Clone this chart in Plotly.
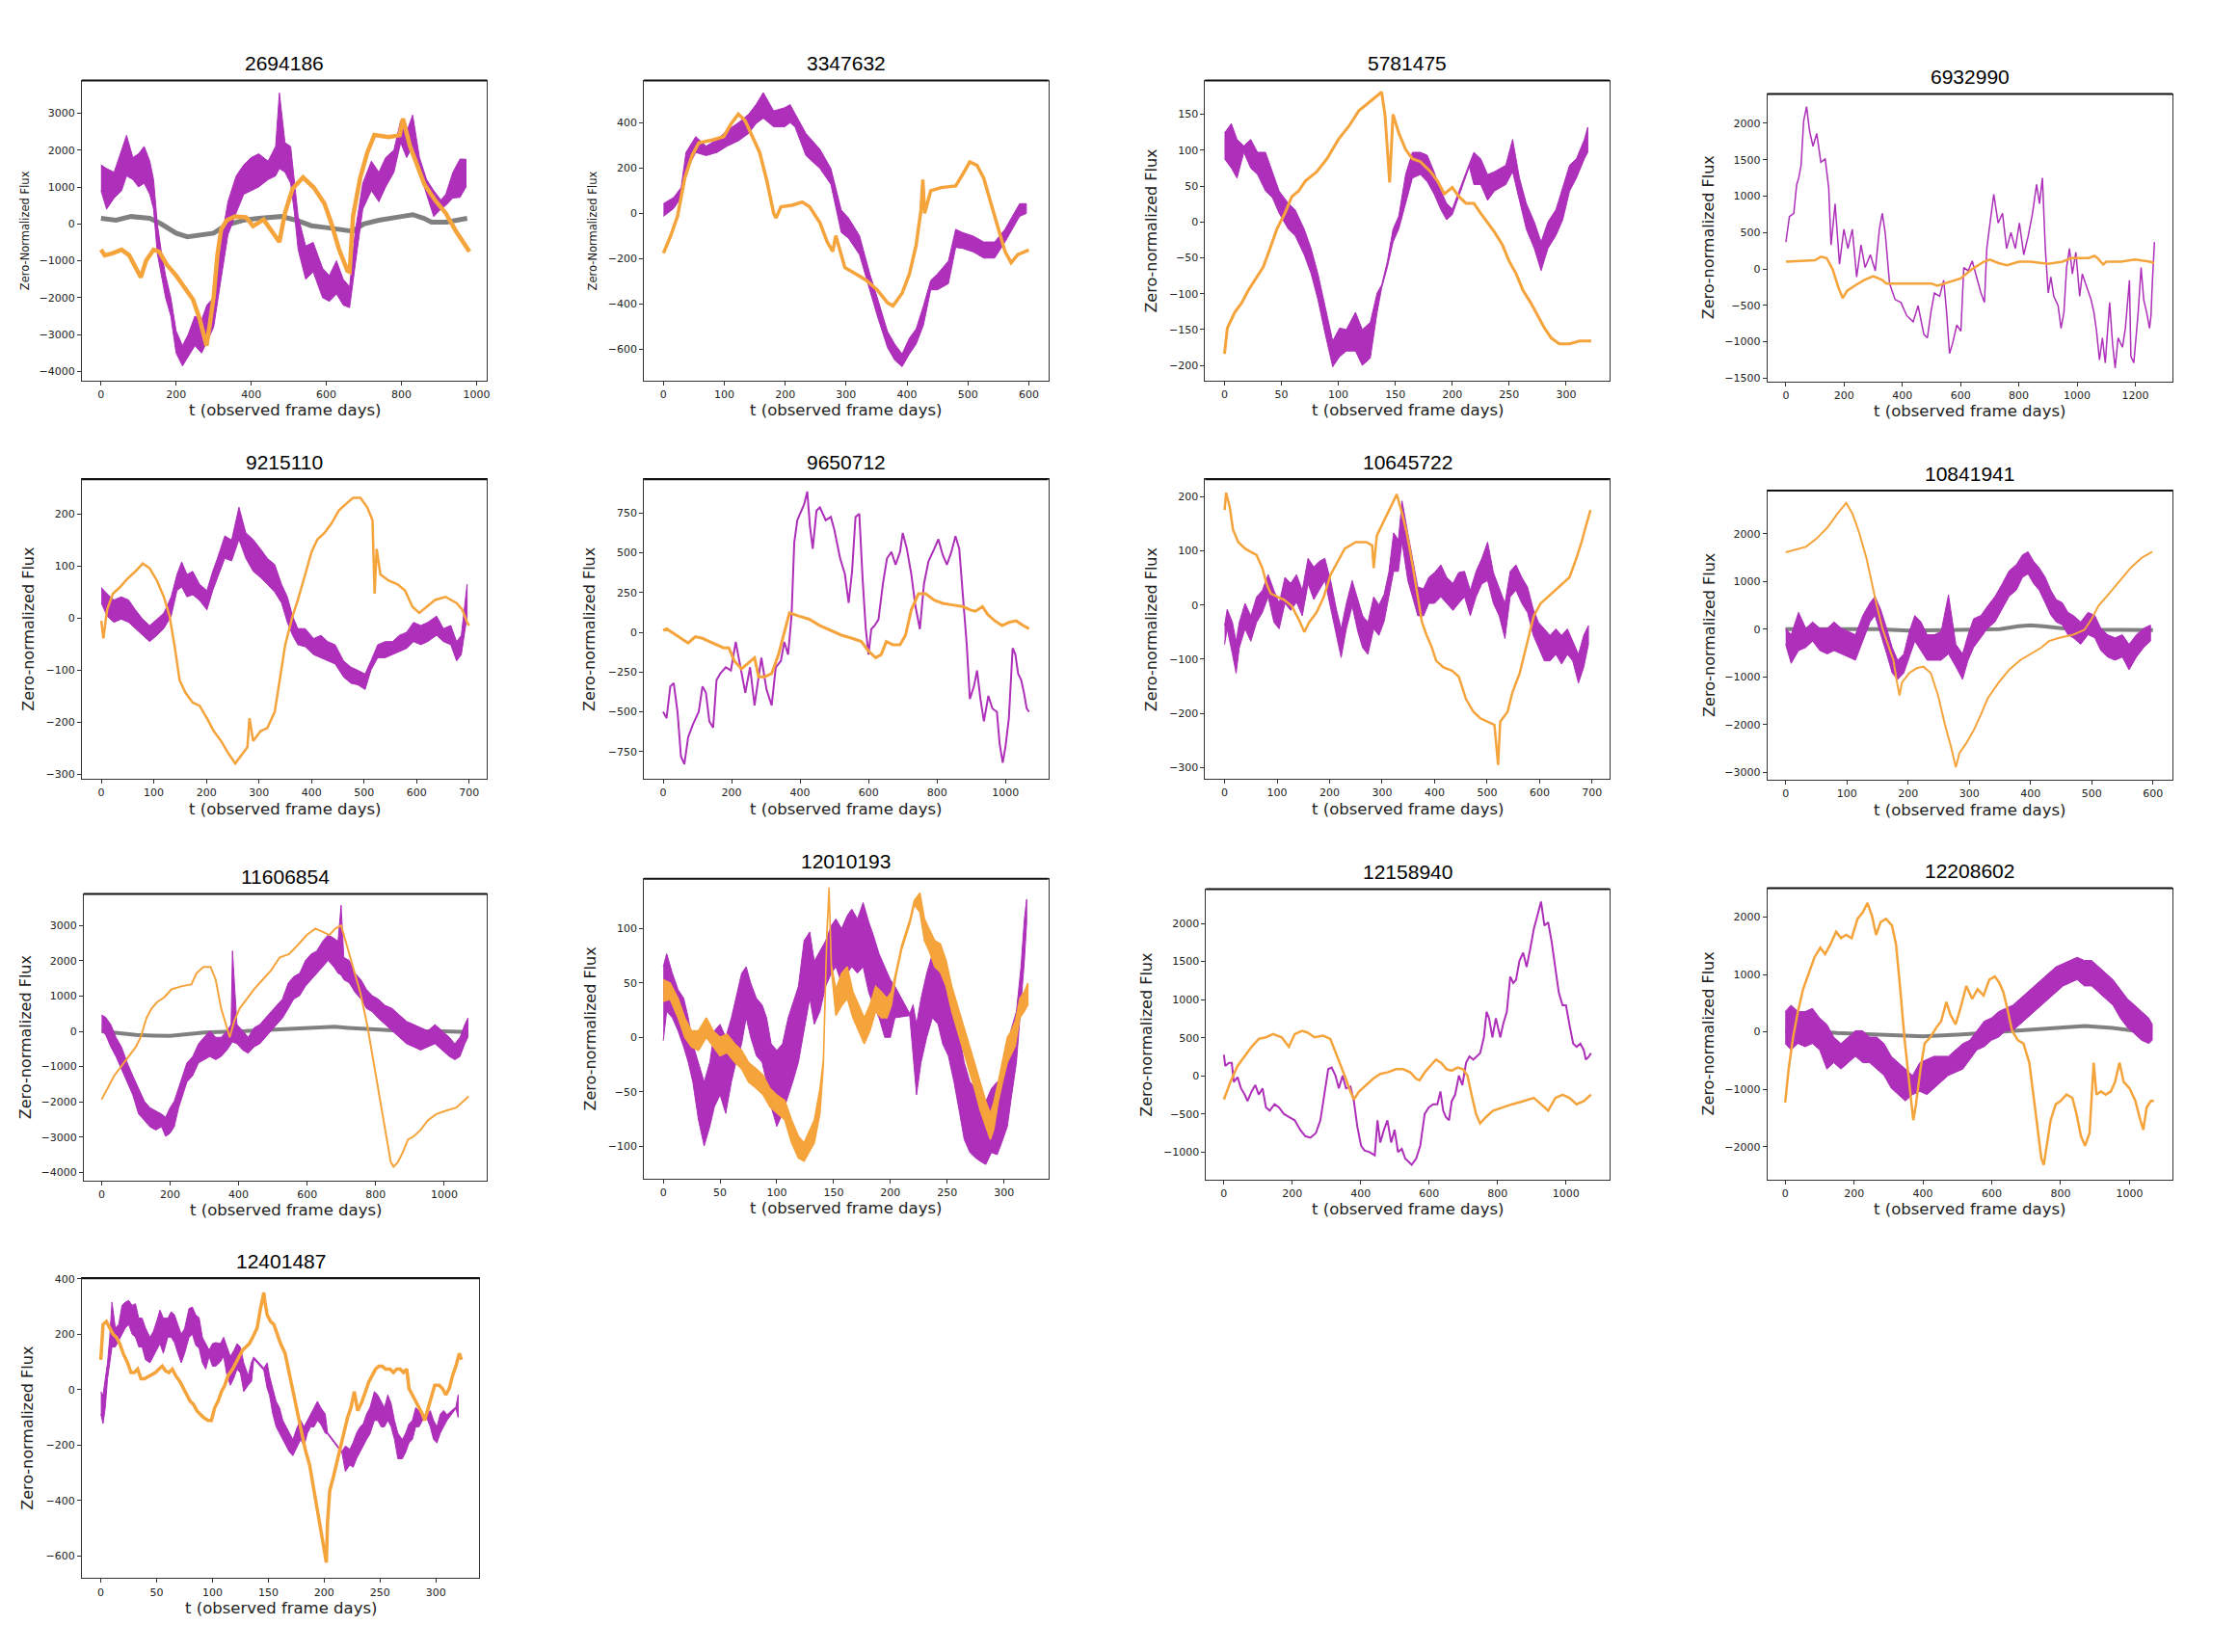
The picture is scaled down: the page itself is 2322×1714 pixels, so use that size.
import plotly.graph_objects as go

# Values.
# Noisy series are stored as (t, low, high) rows of the visible band,
# thin series as (t, value) rows.

p1_purple = [(0, 900, 1600), (15, 400, 1500), (35, 700, 1400), (55, 900, 2000), (68, 1300, 2400),
             (85, 1200, 1800), (100, 1000, 1900), (115, 1100, 2100), (130, 800, 1700), (140, 400, 1200),
             (150, -800, 0), (160, -1300, -700), (172, -2000, -1400), (186, -2500, -2000), (200, -3500, -2900),
             (217, -3850, -3300), (232, -3600, -3000), (250, -3300, -2500), (268, -3500, -2600), (282, -3200, -2200),
             (300, -2800, -2000), (318, -1600, -600), (338, -300, 600), (360, 300, 1300), (380, 800, 1600),
             (400, 900, 1800), (420, 1000, 1900), (445, 1200, 1700), (465, 1300, 2100), (475, 1500, 3550),
             (490, 1400, 2200), (505, 1100, 2100), (515, 300, 1200), (525, -700, 200), (545, -1500, -600),
             (565, -1300, -500), (590, -2000, -1200), (608, -2100, -1400), (627, -1900, -1000), (645, -2200, -1500),
             (662, -2270, -1700), (677, -1100, -200), (697, 400, 1100), (720, 900, 1700), (740, 600, 1400),
             (758, 1000, 1800), (780, 1400, 2000), (798, 2200, 2800), (814, 1800, 2500), (830, 2100, 2950),
             (848, 1400, 1800), (867, 800, 1200), (886, 200, 900), (905, 400, 650), (918, 500, 800),
             (937, 700, 1400), (956, 720, 1760), (972, 1000, 1750)]
p1_orange = [(0, -700), (10, -850), (30, -800), (55, -700), (75, -850), (95, -1200), (106, -1450), (120, -1000),
             (140, -700), (155, -750), (175, -1100), (200, -1400), (225, -1750), (245, -2050), (262, -2550),
             (281, -3300), (290, -2700), (300, -1970), (310, -840), (320, -150), (335, 100), (357, 200),
             (386, 180), (405, -60), (433, 115), (452, -150), (475, -490), (490, 300), (510, 950), (538, 1260),
             (567, 980), (595, 550), (614, 0), (633, -666), (656, -1270), (662, -1300), (671, 200), (690, 1240),
             (709, 1930), (728, 2410), (766, 2350), (795, 2400), (804, 2850), (823, 2100), (842, 1590),
             (861, 1070), (890, 634), (918, 290), (947, -230), (981, -750)]
p1_gray = [(0, 150), (40, 100), (80, 200), (130, 150), (160, 0), (200, -250), (230, -350), (270, -300),
           (300, -250), (330, -50), (380, 100), (420, 150), (480, 200), (520, 100), (560, -50), (600, -100),
           (640, -150), (670, -200), (700, 0), (740, 100), (800, 200), (830, 250), (860, 150), (880, 50),
           (920, 50), (975, 150)]

p2_purple = [(0, -13, 43), (17, 22, 71), (29, 71, 114), (37, 184, 269), (53, 269, 339), (70, 255, 297),
             (88, 269, 325), (105, 297, 367), (123, 320, 400), (140, 353, 438), (152, 396, 480), (164, 420, 533),
             (181, 382, 452), (199, 382, 466), (208, 400, 480), (216, 382, 440), (234, 255, 353), (257, 198, 283),
             (275, 128, 198), (292, -84, 15), (304, -110, -20), (322, -182, -98), (339, -337, -267),
             (351, -450, -370), (368, -592, -521), (380, -648, -577), (392, -676, -620), (404, -620, -550),
             (415, -577, -510), (427, -493, -408), (439, -337, -295), (450, -337, -267), (468, -310, -210),
             (480, -150, -70), (491, -154, -84), (509, -170, -100), (526, -197, -126), (544, -197, -126),
             (561, -126, -70), (573, -70, -13), (585, -13, 43), (596, 0, 43)]
p2_orange = [(0, -175), (12, -98), (23, -13), (35, 156), (47, 255), (58, 311), (82, 325), (99, 339), (111, 395),
             (123, 438), (134, 410), (146, 339), (158, 269), (170, 142), (181, 0), (185, -20), (193, 29),
             (211, 36), (228, 50), (240, 29), (257, -41), (269, -126), (278, -168), (283, -98), (298, -239),
             (316, -267), (333, -295), (351, -337), (368, -394), (377, -408), (392, -352), (404, -267),
             (415, -140), (423, 15), (426, 149), (429, 0), (439, 100), (456, 114), (480, 121), (491, 170),
             (503, 227), (515, 212), (526, 156), (538, 43), (550, -70), (561, -168), (571, -218), (582, -182),
             (600, -161)]

p3_purple = [(0, 88, 124), (6, 75, 137), (11, 61, 115), (17, 97, 106), (23, 75, 115), (29, 66, 97), (36, 43, 97),
             (42, 34, 70), (48, 12, 43), (56, -10, 26), (62, -19, 17), (70, -46, -10), (76, -72, -37),
             (82, -108, -72), (88, -153, -117), (95, -202, -166), (101, -188, -148), (107, -180, -150),
             (115, -180, -126), (121, -200, -150), (128, -190, -140), (134, -126, -99), (138, -92, -88),
             (143, -63, -55), (148, -28, -10), (153, -10, 8), (159, 26, 66), (165, 61, 97), (172, 66, 97),
             (178, 56, 93), (184, 39, 70), (190, 17, 43), (195, 3, 26), (200, 10, 18), (215, 77, 81),
             (219, 52, 97), (225, 52, 88), (231, 30, 66), (237, 43, 70), (247, 52, 79), (253, 70, 115),
             (259, 30, 61), (265, -10, 26), (272, -37, 0), (278, -68, -28), (284, -37, 0), (291, -19, 17),
             (297, 3, 48), (303, 43, 79), (309, 61, 88), (316, 88, 115), (319, 97, 132)]
p3_orange = [(0, -184), (2.5, -148), (9, -126), (15, -113), (21, -95), (28, -77), (34, -63), (40, -37), (46, -10),
             (53, 12), (59, 35), (65, 43), (71, 57), (81, 70), (90, 88), (100, 115), (109, 133), (118, 155),
             (128, 168), (134, 175), (138, 181), (141, 148), (145, 55), (148, 150), (153, 124), (159, 101),
             (165, 88), (172, 84), (181, 70), (187, 57), (193, 39), (200, 48), (206, 35), (212, 26), (219, 26),
             (225, 12), (231, -1), (237, -14), (244, -32), (250, -55), (256, -72), (262, -95), (269, -113),
             (275, -130), (281, -148), (287, -162), (294, -170), (303, -170), (312, -166), (322, -166)]

p4_purple = [(0, 370), (12, 720), (27, 765), (37, 1160), (44, 1250), (52, 1420), (61, 2035), (71, 2230), (81, 1900),
             (93, 1685), (106, 1860), (120, 1465), (135, 1510), (147, 1115), (155, 330), (169, 895), (184, 65),
             (199, 545), (213, 280), (228, 545), (243, -110), (258, 330), (272, 20), (290, 195), (307, -25),
             (321, 545), (331, 765), (341, 500), (356, -200), (375, -420), (395, -460), (415, -640), (437, -725),
             (454, -505), (474, -900), (486, -945), (498, -595), (510, -330), (528, -375), (542, -155),
             (552, -595), (562, -1160), (572, -1030), (587, -770), (601, -855), (611, 20), (626, -25), (640, 110),
             (658, -155), (670, -330), (682, -460), (690, 280), (704, 720), (714, 1025), (729, 630), (744, 765),
             (758, 280), (773, 500), (788, 280), (802, 630), (817, 195), (832, 450), (847, 765), (861, 1160),
             (871, 895), (881, 1250), (891, 280), (901, -330), (910, -110), (920, -375), (935, -505), (945, -815),
             (955, -595), (964, 20), (974, 280), (984, -67), (996, 230), (1009, -375), (1018, -67), (1033, -245),
             (1048, -420), (1058, -595), (1067, -855), (1077, -1250), (1087, -945), (1097, -1290), (1112, -460),
             (1122, -1030), (1131, -1360), (1141, -945), (1156, -1075), (1166, -815), (1180, -155), (1185, -1200),
             (1195, -1290), (1210, -595), (1220, 20), (1229, -420), (1239, -595), (1249, -815), (1254, -640),
             (1259, -155), (1266, 370)]
p4_orange = [(0, 100), (50, 110), (100, 120), (120, 170), (140, 150), (160, 0), (180, -250), (195, -400),
             (210, -300), (240, -220), (270, -150), (300, -100), (330, -150), (345, -200), (370, -200),
             (450, -200), (500, -200), (520, -230), (560, -180), (600, -130), (640, 0), (680, 100), (700, 130),
             (730, 80), (760, 50), (800, 100), (840, 100), (900, 70), (950, 100), (980, 150), (1040, 150),
             (1060, 180), (1070, 150), (1090, 60), (1100, 100), (1150, 100), (1200, 130), (1250, 100), (1265, 80)]

p5_purple = [(0, 29, 59), (11, 4, 47), (24, -8, 35), (38, -2, 41), (52, -8, 35), (65, -20, 16), (79, -33, -2),
             (92, -45, -14), (106, -33, -2), (119, -20, 10), (133, 4, 41), (144, 53, 84), (153, 60, 108),
             (163, 41, 84), (174, 45, 90), (187, 34, 65), (201, 16, 53), (212, 53, 90), (221, 78, 115),
             (235, 115, 158), (248, 110, 150), (262, 151, 213), (275, 115, 164), (289, 90, 151), (303, 78, 133),
             (316, 65, 115), (330, 50, 103), (343, 29, 65), (354, -8, 41), (364, -33, 4), (374, -51, -20),
             (388, -55, -20), (404, -70, -39), (418, -76, -33), (431, -82, -45), (445, -88, -51), (461, -113, -82),
             (475, -125, -94), (488, -128, -100), (502, -137, -107), (513, -100, -82), (526, -76, -51),
             (540, -76, -45), (554, -70, -45), (567, -64, -33), (581, -58, -27), (594, -45, -8), (608, -51, -14),
             (621, -45, -8), (638, -33, 4), (651, -45, -20), (665, -51, -14), (676, -82, -45), (685, -70, -33),
             (696, 4, 65)]
p5_orange = [(0, -5), (4, -39), (11, 16), (22, 47), (35, 59), (49, 75), (65, 90), (79, 105), (92, 96), (106, 72),
             (119, 41), (130, 4), (140, -57), (149, -119), (160, -143), (174, -162), (187, -168), (201, -192),
             (214, -217), (228, -236), (242, -260), (255, -279), (269, -260), (278, -248), (282, -192),
             (289, -236), (303, -217), (316, -211), (330, -180), (339, -119), (350, -51), (364, 4), (374, 35),
             (388, 84), (400, 127), (411, 151), (425, 164), (438, 182), (452, 207), (465, 219), (479, 231),
             (493, 231), (506, 213), (516, 188), (520, 47), (524, 133), (531, 84), (547, 72), (564, 65),
             (578, 53), (592, 22), (605, 10), (619, 22), (635, 35), (655, 41), (676, 29), (687, 16), (696, -8),
             (700, -14)]

p6_purple = [(0, -500), (10, -540), (21, -340), (31, -320), (42, -500), (52, -780), (62, -830), (73, -660),
             (87, -580), (104, -500), (115, -340), (125, -380), (135, -560), (146, -600), (156, -300), (167, -260),
             (183, -220), (198, -240), (212, -60), (225, -220), (240, -380), (254, -220), (267, -460), (275, -340),
             (287, -160), (302, -360), (317, -460), (329, -220), (344, -180), (354, -60), (365, -140), (375, 100),
             (383, 565), (392, 705), (400, 745), (412, 805), (421, 885), (429, 665), (437, 525), (448, 765),
             (458, 785), (475, 705), (490, 725), (500, 645), (517, 465), (531, 365), (542, 185), (552, 385),
             (562, 725), (573, 745), (583, 325), (592, 20), (600, -140), (608, 20), (617, 40), (629, 80),
             (642, 305), (654, 465), (667, 505), (679, 425), (692, 505), (700, 625), (712, 525), (725, 365),
             (737, 165), (750, 20), (762, 305), (775, 445), (792, 525), (804, 585), (817, 485), (829, 425),
             (842, 505), (854, 605), (865, 525), (875, 265), (887, -80), (896, -420), (908, -340), (917, -240),
             (927, -420), (937, -560), (950, -400), (962, -480), (975, -500), (983, -700), (992, -820),
             (1000, -720), (1010, -540), (1021, -100), (1029, -140), (1037, -260), (1046, -300), (1054, -380),
             (1062, -480), (1069, -500)]
p6_orange = [(0, 12), (10, 22), (31, -8), (52, -38), (73, -68), (94, -28), (115, -38), (135, -58), (156, -78),
             (177, -98), (192, -98), (208, -180), (229, -230), (246, -200), (267, -160), (279, -280), (296, -280),
             (317, -260), (337, -140), (354, 0), (369, 122), (396, 102), (427, 82), (458, 42), (490, 12),
             (521, -18), (552, -38), (579, -58), (600, -118), (621, -160), (637, -140), (652, -58), (671, -78),
             (692, -78), (708, -18), (725, 142), (746, 242), (767, 242), (792, 202), (817, 182), (844, 172),
             (875, 162), (896, 142), (912, 132), (933, 162), (948, 112), (969, 72), (990, 42), (1010, 62),
             (1031, 72), (1052, 42), (1069, 22)]

p7_purple = [(0, -73, -38), (5, -44, -8), (15, -91, -32), (22, -126, -67), (28, -79, -32), (39, -44, 3),
             (50, -67, -20), (61, -32, 15), (72, -14, 27), (83, 15, 56), (94, -32, 27), (104, -44, 3), (115, 3, 51),
             (126, -10, 40), (137, 5, 56), (148, -20, 27), (159, 39, 86), (170, 10, 70), (180, 27, 80),
             (191, 45, 86), (202, -8, 45), (213, -56, -8), (222, -97, -44), (232, -44, 3), (243, -2, 45),
             (254, -50, 10), (263, -79, -20), (273, -91, -32), (284, -44, 15), (294, -56, 0), (304, -30, 20),
             (313, 15, 61), (322, 62, 133), (331, 62, 120), (338, 116, 192), (349, 45, 133), (358, 15, 86),
             (368, -20, 33), (379, -20, 30), (389, 3, 51), (400, 3, 60), (412, 15, 74), (423, 3, 51),
             (435, -10, 40), (446, 3, 60), (457, 15, 62), (468, -20, 27), (479, 15, 62), (490, 39, 86),
             (501, 45, 116), (512, 3, 60), (523, -20, 30), (534, -62, 3), (544, 15, 62), (555, 27, 74),
             (566, 3, 51), (577, -14, 33), (588, -56, -8), (598, -79, -32), (609, -103, -44), (620, -103, -56),
             (631, -91, -44), (642, -109, -56), (653, -91, -44), (663, -103, -67), (674, -144, -91),
             (684, -115, -56), (693, -73, -38)]
p7_orange = [(0, 175), (3, 207), (10, 180), (16, 139), (26, 116), (39, 104), (50, 98), (61, 92), (72, 68), (80, 39),
             (88, 21), (100, 15), (114, 9), (128, -2), (141, -26), (152, -50), (161, -32), (175, -14), (189, 15),
             (202, 56), (216, 80), (229, 104), (250, 116), (270, 116), (281, 110), (284, 68), (290, 128),
             (304, 157), (318, 186), (328, 204), (338, 169), (347, 133), (358, 74), (368, 15), (376, -32),
             (385, -56), (395, -79), (403, -103), (417, -115), (433, -121), (446, -132), (460, -174), (474, -197),
             (487, -209), (501, -215), (514, -221), (521, -295), (525, -215), (539, -197), (548, -162),
             (562, -126), (575, -73), (589, -20), (602, 3), (616, 15), (630, 27), (643, 39), (657, 51), (670, 86),
             (680, 116), (688, 145), (697, 175)]

p8_purple = [(0, -316, 19), (9, -717, -115), (21, -450, 353), (33, -383, 19), (44, -249, 153), (56, -450, 19),
             (68, -517, 19), (79, -450, 153), (91, -517, 19), (103, -584, -48), (114, -650, -115), (126, -249, 287),
             (138, 153, 555), (146, 287, 688), (155, -115, 421), (165, -517, 19), (174, -918, -383),
             (183, -1052, -650), (193, -918, -517), (202, -584, -48), (211, -249, 287), (221, -450, 153),
             (231, -650, -115), (243, -650, -115), (254, -650, -48), (266, -517, 722), (278, -784, -316),
             (289, -1052, -517), (298, -650, -115), (307, -383, 220), (319, -182, 287), (330, 19, 488),
             (342, 153, 688), (354, 421, 956), (365, 688, 1224), (377, 822, 1357), (387, 1090, 1558),
             (396, 1157, 1625), (405, 956, 1424), (414, 822, 1290), (424, 554, 1090), (433, 300, 820),
             (442, 153, 621), (452, 86, 555), (461, -115, 354), (470, -182, 287), (482, -316, 153),
             (494, -115, 354), (505, -182, 287), (515, -450, 19), (526, -584, -115), (538, -650, -182),
             (550, -584, -115), (561, -851, -316), (573, -584, -115), (585, -383, 19), (596, -249, 86)]
p8_orange = [(0, 1612), (15, 1660), (33, 1726), (50, 1893), (68, 2127), (85, 2428), (99, 2649), (109, 2428),
             (120, 2027), (132, 1491), (141, 956), (149, 487), (158, 19), (167, -316), (176, -651), (182, -1119),
             (186, -1387), (190, -1119), (202, -918), (214, -818), (225, -784), (237, -918), (249, -1387),
             (260, -1990), (270, -2458), (278, -2893), (284, -2592), (295, -2391), (307, -2123), (319, -1788),
             (330, -1454), (348, -1119), (365, -851), (383, -650), (400, -517), (418, -383), (430, -249),
             (447, -182), (470, -115), (488, -14), (500, 220), (511, 488), (529, 755), (546, 1023), (564, 1290),
             (581, 1491), (599, 1625)]
p8_gray = [(0, 0), (100, 0), (150, 0), (200, -30), (250, -20), (300, -30), (350, 0), (380, 60), (400, 80),
           (420, 60), (450, 20), (500, -10), (550, -20), (600, -20)]

p9_purple = [(0, 13, 467), (12, -100, 400), (27, -441, 194), (42, -714, -169), (58, -1077, -441),
             (75, -1440, -895), (91, -1803, -1258), (108, -2348, -1621), (125, -2529, -1984), (141, -2711, -2166),
             (158, -2802, -2257), (175, -2711, -2348), (187, -2983, -2439), (200, -2893, -2166),
             (212, -2711, -1984), (225, -2166, -1621), (237, -1803, -1258), (249, -1440, -895),
             (266, -1258, -714), (283, -895, -351), (299, -804, -169), (316, -714, 13), (333, -804, -169),
             (349, -714, -169), (366, -532, 13), (378, -351, 194), (382, -300, 2283), (395, -351, 194),
             (412, -532, 13), (428, -623, -169), (445, -441, 103), (462, -351, 194), (478, -169, 376),
             (495, 13, 558), (511, 194, 740), (528, 376, 921), (545, 649, 1375), (561, 921, 1557),
             (578, 1012, 1647), (595, 1284, 2010), (611, 1466, 2192), (628, 1647, 2283), (645, 1829, 2555),
             (661, 2010, 2737), (678, 1829, 2646), (690, 1647, 2555), (699, 1600, 3580), (707, 1466, 2100),
             (723, 1375, 2010), (740, 1103, 1647), (757, 921, 1466), (773, 649, 1193), (790, 558, 1012),
             (807, 376, 921), (827, 194, 740), (848, 13, 649), (869, -169, 467), (890, -351, 285), (911, -441, 194),
             (931, -532, 103), (952, -441, 13), (973, -351, 194), (994, -532, 13), (1015, -714, -169),
             (1031, -804, -351), (1046, -714, -169), (1060, -351, 194), (1069, -169, 376)]
p9_orange = [(0, -1939), (17, -1621), (37, -1258), (58, -986), (79, -714), (100, -441), (114, -169), (131, 376),
             (146, 649), (162, 830), (183, 967), (204, 1193), (235, 1284), (262, 1330), (277, 1647), (297, 1829),
             (318, 1829), (333, 1466), (349, 649), (362, 194), (374, -169), (387, 285), (403, 649), (424, 921),
             (445, 1193), (470, 1466), (495, 1738), (520, 2101), (547, 2192), (574, 2464), (599, 2737),
             (624, 2918), (645, 2827), (665, 2737), (682, 2918), (699, 3009), (715, 2464), (734, 1829),
             (755, 1103), (775, 194), (790, -714), (807, -1621), (823, -2529), (836, -3255), (844, -3709),
             (852, -3846), (865, -3709), (879, -3437), (894, -3074), (911, -2983), (931, -2802), (952, -2529),
             (977, -2348), (1004, -2257), (1035, -2166), (1056, -1984), (1071, -1848)]
p9_gray = [(0, 0), (50, -50), (100, -100), (150, -120), (200, -130), (250, -80), (300, -30), (400, 0), (500, 50),
           (600, 100), (680, 130), (720, 100), (800, 50), (900, 0), (1000, 0), (1069, -20)]

p10_purple = [(0, -3, 65), (3, 24, 77), (8, 18, 59), (13, 6, 44), (18, -9, 36), (22, -23, 18), (26, -41, -6),
              (31, -76, -23), (36, -100, -41), (41, -82, -23), (45, -64, 6), (50, -53, 12), (55, -70, 0),
              (60, -41, 18), (64, -23, 36), (69, -6, 59), (73, 18, 65), (77, 0, 50), (82, -17, 36), (87, -23, 30),
              (91, -41, 18), (95, -64, -6), (100, -82, -12), (105, -70, -6), (110, -53, 18), (114, -41, 30),
              (119, -23, 47), (124, 6, 89), (129, 36, 97), (133, 12, 70), (138, 24, 79), (143, 47, 89),
              (148, 59, 103), (152, 65, 109), (157, 50, 100), (162, 59, 112), (166, 65, 118), (171, 59, 109),
              (176, 65, 124), (181, 41, 106), (185, 30, 94), (190, 18, 77), (195, 0, 65), (200, 0, 53),
              (204, 18, 47), (217, 20, 22), (220, -17, 30), (223, -53, 12), (227, -23, 36), (232, 0, 59),
              (237, 18, 77), (242, 12, 71), (246, -6, 59), (251, -17, 50), (256, -41, 30), (261, -70, 0),
              (265, -94, -23), (270, -106, -41), (275, -111, -47), (279, -114, -53), (284, -117, -59),
              (289, -106, -47), (294, -108, -41), (298, -97, -41), (303, -82, -17), (306, -59, 6), (311, -23, 24),
              (315, 30, 65), (318, 71, 109), (320, 106, 127)]
p10_orange = [(0, 33, 53), (6, 35, 50), (13, 18, 36), (19, 0, 18), (25, -9, 6), (31, -12, 6), (38, 0, 18),
              (44, -9, 6), (50, -17, 0), (56, -14, 3), (63, -23, -6), (69, -29, -12), (75, -41, -23),
              (82, -47, -29), (88, -53, -35), (94, -64, -47), (100, -70, -53), (107, -76, -58), (113, -97, -76),
              (119, -111, -91), (124, -114, -97), (129, -105, -85), (133, -97, -76), (138, -70, -47),
              (141, -25, -20), (144, 90, 96), (146, 134, 138), (148, 63, 67), (152, 20, 44), (157, 29, 59),
              (162, 36, 65), (167, 18, 42), (172, 6, 30), (177, -6, 18), (182, 6, 30), (187, 24, 47),
              (192, 18, 42), (197, 18, 36), (201, 30, 42), (205, 57, 61), (210, 81, 85), (217, 104, 108),
              (221, 122, 126), (226, 115, 133), (230, 89, 109), (234, 80, 100), (239, 65, 89), (244, 60, 86),
              (249, 47, 71), (254, 24, 47), (259, 6, 30), (264, -12, 12), (269, -29, -6), (274, -47, -23),
              (279, -67, -41), (284, -82, -59), (288, -94, -70), (291, -85, -60), (295, -59, -41),
              (299, -40, -20), (303, -23, 0), (306, -17, 5), (310, -8, 15), (314, 18, 36), (318, 24, 42),
              (321, 30, 50)]

p11_purple = [(0, 276), (4, 130), (15, 172), (23, 172), (29, -80), (40, -17), (50, -163), (61, -247), (69, -331),
              (81, -205), (92, -121), (102, -247), (113, -163), (123, -414), (134, -456), (148, -372), (161, -414),
              (175, -498), (190, -540), (207, -582), (223, -707), (238, -791), (253, -812), (269, -749),
              (282, -582), (294, -247), (305, 88), (315, 109), (326, 4), (336, -163), (347, 4), (357, -163),
              (370, -140), (380, -331), (390, -665), (401, -916), (411, -979), (426, -1000), (441, -1042),
              (449, -582), (457, -874), (468, -707), (478, -582), (489, -874), (499, -707), (509, -1000),
              (520, -958), (530, -1084), (541, -1125), (549, -1167), (562, -1084), (574, -916), (587, -498),
              (599, -414), (612, -372), (624, -372), (633, -205), (641, -456), (649, -540), (658, -582),
              (666, -331), (676, -247), (687, 4), (697, -121), (708, 172), (718, 255), (729, 213), (739, 255),
              (749, 297), (760, 506), (768, 841), (775, 757), (785, 506), (795, 757), (808, 506), (816, 674),
              (827, 841), (837, 1301), (846, 1218), (854, 1259), (864, 1510), (875, 1615), (885, 1427),
              (896, 1678), (906, 1929), (916, 2096), (927, 2285), (937, 1971), (948, 2013), (958, 1762),
              (969, 1427), (979, 1092), (990, 925), (1000, 925), (1010, 674), (1021, 423), (1031, 381),
              (1042, 423), (1052, 339), (1058, 213), (1067, 255), (1073, 297)]
p11_orange = [(0, -310), (19, -80), (40, 130), (61, 255), (81, 381), (102, 485), (123, 506), (144, 548),
              (169, 506), (190, 381), (207, 548), (228, 590), (244, 569), (265, 506), (290, 527), (311, 485),
              (332, 255), (353, 4), (370, -205), (380, -310), (395, -205), (415, -121), (436, -38), (457, 25),
              (478, 46), (503, 88), (524, 88), (545, 46), (562, -38), (572, -59), (587, 46), (603, 130),
              (620, 213), (635, 172), (651, 88), (666, 67), (683, 109), (699, 88), (712, 4), (724, -247),
              (737, -498), (749, -623), (766, -540), (787, -456), (812, -414), (843, -372), (875, -331),
              (906, -289), (927, -372), (948, -456), (969, -289), (990, -247), (1010, -289), (1031, -372),
              (1052, -331), (1073, -247)]

p12_purple = [(0, -203, 353), (17, -314, 465), (37, -203, 353), (58, -259, 353), (79, -203, 409), (100, -314, 242),
              (121, -648, 131), (141, -537, -92), (162, -648, -203), (183, -537, -92), (204, -426, 19),
              (225, -537, 19), (245, -537, -92), (266, -648, -92), (287, -759, -203), (308, -982, -426),
              (328, -1093, -537), (349, -1204, -648), (370, -1093, -760), (391, -1037, -537), (412, -1093, -482),
              (432, -982, -426), (453, -870, -426), (474, -760, -426), (495, -704, -315), (516, -648, -203),
              (536, -482, -147), (557, -314, 19), (578, -259, 186), (599, -147, 242), (620, -92, 353),
              (640, 19, 409), (661, 19, 465), (682, 131, 576), (703, 242, 687), (723, 353, 798), (744, 465, 910),
              (765, 576, 1021), (786, 687, 1132), (807, 798, 1188), (827, 854, 1243), (848, 910, 1299),
              (869, 800, 1243), (890, 800, 1243), (911, 687, 1132), (931, 576, 1021), (952, 465, 910),
              (973, 242, 743), (994, 75, 576), (1015, -36, 465), (1035, -147, 353), (1056, -203, 242),
              (1066, -147, 131)]
p12_orange = [(0, -1232), (10, -648), (23, -92), (37, 353), (52, 743), (69, 1021), (85, 1299), (102, 1466),
              (116, 1355), (131, 1522), (148, 1744), (162, 1633), (177, 1689), (193, 1633), (210, 1967),
              (225, 2078), (239, 2245), (252, 2022), (264, 1689), (277, 1911), (293, 1967), (310, 1856),
              (322, 1522), (335, 687), (347, -147), (360, -870), (372, -1538), (380, -1260), (393, -648),
              (405, -203), (422, -92), (439, 75), (453, 186), (468, 520), (480, 298), (495, 131), (509, 409),
              (526, 798), (543, 576), (559, 743), (576, 632), (593, 910), (609, 965), (622, 854), (634, 687),
              (647, 353), (659, 19), (676, -147), (692, -203), (709, -537), (721, -1093), (734, -1650),
              (744, -2206), (751, -2317), (759, -1984), (771, -1538), (786, -1260), (800, -1204), (817, -1093),
              (834, -1149), (846, -1427), (859, -1817), (871, -1984), (884, -1761), (896, -537), (904, -1093),
              (917, -1037), (931, -1093), (946, -1037), (958, -870), (971, -537), (983, -870), (1000, -982),
              (1017, -1204), (1029, -1483), (1040, -1706), (1050, -1316), (1062, -1204), (1071, -1204)]
p12_gray = [(0, 0), (100, 0), (150, -20), (200, -30), (300, -50), (400, -80), (500, -50), (550, -30), (600, 0),
            (700, 30), (800, 80), (870, 100), (950, 70), (1000, 30), (1040, 0)]

p13_purple = [(0, -88, -7), (2, -122, -19), (4, -65, 39), (6, 39, 97), (8, 97, 189), (10, 154, 316), (13, 154, 223),
              (16, 177, 235), (19, 200, 304), (22, 223, 316), (25, 235, 322), (28, 200, 304), (31, 190, 310),
              (34, 154, 258), (37, 154, 258), (40, 108, 223), (44, 97, 189), (47, 120, 210), (50, 143, 246),
              (53, 166, 287), (56, 131, 258), (60, 190, 258), (63, 189, 281), (66, 170, 270), (69, 131, 235),
              (72, 97, 200), (75, 130, 220), (79, 189, 293), (82, 200, 298), (85, 160, 270), (88, 150, 260),
              (91, 97, 189), (94, 74, 166), (97, 120, 143), (100, 85, 166), (103, 85, 170), (107, 100, 166),
              (110, 120, 189), (113, 51, 154), (116, 16, 120), (119, 40, 140), (122, 74, 166), (125, 60, 154),
              (128, -7, 97), (132, 16, 51), (135, 30, 100), (137, 110, 118), (146, 70, 78), (149, 4, 97),
              (151, -19, 51), (154, -88, 4), (157, -134, -42), (160, -157, -65), (163, -180, -111),
              (166, -203, -134), (169, -226, -157), (172, -238, -180), (176, -203, -134), (179, -180, -111),
              (182, -203, -134), (185, -157, -111), (188, -134, -88), (191, -134, -65), (194, -111, -42),
              (197, -125, -65), (201, -157, -88), (203, -160, -154), (216, -229, -223), (219, -295, -203),
              (223, -272, -215), (226, -280, -190), (229, -249, -157), (232, -230, -135), (235, -203, -123),
              (238, -180, -88), (241, -160, -65), (245, -111, -7), (248, -111, -19), (251, -134, -42),
              (254, -134, -65), (257, -111, -19), (260, -134, -50), (263, -180, -111), (266, -249, -157),
              (270, -249, -180), (273, -226, -157), (276, -192, -123), (279, -180, -111), (282, -134, -65),
              (285, -134, -75), (288, -111, -88), (292, -103, -97), (295, -134, -75), (298, -180, -111),
              (301, -192, -134), (304, -157, -88), (307, -134, -75), (310, -111, -90), (318, -68, -62),
              (320, -100, -19)]
p13_orange = [(0, 108), (1, 189), (2, 235), (5, 246), (8, 223), (11, 200), (14, 189), (17, 166), (20, 131),
              (24, 97), (27, 62), (30, 62), (33, 74), (36, 39), (39, 39), (42, 45), (45, 51), (49, 62), (52, 74),
              (55, 85), (58, 68), (61, 62), (64, 74), (67, 51), (71, 28), (74, 4), (77, -19), (80, -42), (83, -53),
              (86, -76), (89, -88), (92, -100), (96, -111), (99, -111), (102, -65), (105, -42), (108, -7),
              (111, 16), (114, 51), (118, 74), (121, 97), (124, 120), (127, 143), (130, 154), (133, 166),
              (136, 189), (140, 223), (143, 293), (146, 350), (147, 316), (149, 270), (152, 246), (155, 235),
              (158, 200), (161, 166), (165, 131), (168, 74), (171, 16), (174, -30), (177, -88), (180, -157),
              (183, -215), (187, -272), (190, -342), (193, -422), (196, -492), (199, -561), (202, -624),
              (203, -480), (205, -365), (208, -319), (212, -249), (215, -203), (218, -157), (221, -100),
              (224, -65), (227, -7), (230, -76), (234, -42), (237, -7), (240, 28), (243, 51), (246, 74), (249, 85),
              (252, 85), (255, 74), (259, 74), (262, 62), (265, 74), (268, 74), (271, 62), (274, 74), (276, 4),
              (279, -19), (282, -42), (285, -65), (288, -88), (290, -111), (293, -65), (296, -19), (299, 16),
              (303, 16), (306, 4), (309, -19), (312, 4), (315, 51), (318, 85), (321, 131), (323, 108)]

titles = ["2694186", "3347632", "5781475", "6932990", "9215110", "9650712", "10645722",
          "10841941", "11606854", "12010193", "12158940", "12208602", "12401487"]

PURPLE = "#ad2fba"
ORANGE = "#f5a33b"
GRAY = "#808080"

# window size; the page body has an 8px margin, so the figure is shrunk and shifted by it
W, H = 2322, 1714
OFF = 8
FW, FH = W - 2 * OFF, H - 2 * OFF


def px(x):
    return (x - OFF) / FW


def py(y):
    return 1 - (y - OFF) / FH


# layout per panel: pixel box (left, top, right, bottom), axis ranges, tick steps
panels = [
    dict(box=(85, 78, 506, 391), xr=(-51, 1028), yr=(-4243, 3884), dx=200, dy=1000, small=True, ydx=59,
         series=[("line", p1_gray, GRAY, 5), ("band", p1_purple, PURPLE, 1), ("line", p1_orange, ORANGE, 4.5)]),
    dict(box=(669, 78, 1089, 391), xr=(-32, 632), yr=(-737, 586), dx=100, dy=200, small=True, ydx=53,
         series=[("band", p2_purple, PURPLE, 1), ("line", p2_orange, ORANGE, 3.5)]),
    dict(box=(1252, 78, 1672, 391), xr=(-17, 338), yr=(-221, 197), dx=50, dy=50, ydx=56,
         series=[("band", p3_purple, PURPLE, 1), ("line", p3_orange, ORANGE, 3)]),
    dict(box=(1836, 92, 2257, 392), xr=(-64, 1328), yr=(-1544, 2403), dx=200, dy=500, ydx=61,
         series=[("line", p4_purple, PURPLE, 1.5), ("line", p4_orange, ORANGE, 2.5)]),
    dict(box=(85, 494, 506, 807), xr=(-37, 734), yr=(-309, 267), dx=100, dy=100, ydx=55,
         series=[("band", p5_purple, PURPLE, 1), ("line", p5_orange, ORANGE, 2.5)]),
    dict(box=(669, 494, 1089, 807), xr=(-56, 1125), yr=(-923, 963), dx=200, dy=250, ydx=56,
         series=[("line", p6_purple, PURPLE, 2), ("line", p6_orange, ORANGE, 3)]),
    dict(box=(1252, 494, 1672, 807), xr=(-37, 733), yr=(-321, 232), dx=100, dy=100, ydx=56,
         series=[("band", p7_purple, PURPLE, 1), ("line", p7_orange, ORANGE, 2.5)]),
    dict(box=(1836, 506, 2257, 808), xr=(-30, 632), yr=(-3161, 2904), dx=100, dy=1000, ydx=61,
         series=[("line", p8_gray, GRAY, 4), ("band", p8_purple, PURPLE, 1), ("line", p8_orange, ORANGE, 2)]),
    dict(box=(87, 927, 506, 1226), xr=(-52, 1125), yr=(-4236, 3899), dx=200, dy=1000, ydx=61,
         series=[("line", p9_gray, GRAY, 4), ("band", p9_purple, PURPLE, 1), ("line", p9_orange, ORANGE, 2)]),
    dict(box=(669, 911, 1089, 1224), xr=(-17, 339), yr=(-130, 146), dx=50, dy=50, ydx=56,
         series=[("band", p10_purple, PURPLE, 1), ("band", p10_orange, ORANGE, 1.5)]),
    dict(box=(1253, 922, 1672, 1225), xr=(-52, 1127), yr=(-1360, 2448), dx=200, dy=500, ydx=62,
         series=[("line", p11_purple, PURPLE, 2), ("line", p11_orange, ORANGE, 2.5)]),
    dict(box=(1836, 921, 2257, 1225), xr=(-52, 1125), yr=(-2573, 2501), dx=200, dy=1000, ydx=61,
         series=[("line", p12_gray, GRAY, 4), ("band", p12_purple, PURPLE, 1), ("line", p12_orange, ORANGE, 2.5)]),
    dict(box=(85, 1328, 498, 1641), xr=(-17, 339), yr=(-680, 402), dx=50, dy=200, ydx=56,
         series=[("band", p13_purple, PURPLE, 1), ("line", p13_orange, ORANGE, 3.5)]),
]

fig = go.Figure()
annotations = []
shapes = []

axis_style = dict(showgrid=False, zeroline=False, showline=True, linecolor="#333333", linewidth=1,
                  mirror=True, ticks="outside", ticklen=4, tickcolor="#333333", tick0=0,
                  tickfont=dict(family="DejaVu Sans", size=11, color="#222222"))

for i, (p, title) in enumerate(zip(panels, titles), start=1):
    left, top, right, bottom = p["box"]
    xa = "x" if i == 1 else f"x{i}"
    ya = "y" if i == 1 else f"y{i}"

    for kind, rows, color, width in p["series"]:
        cols = [list(c) for c in zip(*rows)]
        if kind == "band":
            t, lo, hi = cols
            fig.add_trace(go.Scatter(x=t + t[::-1], y=hi + lo[::-1], mode="lines", fill="toself",
                                     fillcolor=color, line=dict(color=color, width=width),
                                     xaxis=xa, yaxis=ya, hoverinfo="skip"))
        else:
            t, y = cols
            fig.add_trace(go.Scatter(x=t, y=y, mode="lines", line=dict(color=color, width=width),
                                     xaxis=xa, yaxis=ya))

    fig.update_layout(**{
        ("xaxis" if i == 1 else f"xaxis{i}"): dict(domain=[px(left), px(right)], range=list(p["xr"]),
                                                 dtick=p["dx"], anchor=ya, **axis_style),
        ("yaxis" if i == 1 else f"yaxis{i}"): dict(domain=[py(bottom), py(top)], range=list(p["yr"]),
                                                 dtick=p["dy"], anchor=xa, **axis_style),
    })

    # darker top spine, as in the picture
    shapes.append(dict(type="line", xref="paper", yref="paper", x0=px(left), x1=px(right),
                       y0=py(top), y1=py(top), line=dict(color="#111111", width=2)))

    annotations.append(dict(text=title, x=px((left + right) / 2), y=py(top - 18), xref="paper",
                            yref="paper", showarrow=False, xanchor="center", yanchor="middle",
                            font=dict(family="Liberation Sans", size=21, color="#000000")))
    annotations.append(dict(text="t (observed frame days)", x=px((left + right) / 2), y=py(bottom + 31),
                            xref="paper", yref="paper", showarrow=False, xanchor="center", yanchor="middle",
                            font=dict(family="DejaVu Sans", size=16.5, color="#222222")))
    small = p.get("small", False)
    annotations.append(dict(text="Zero-Normalized Flux" if small else "Zero-normalized Flux",
                            x=px(left - p["ydx"]), y=py((top + bottom) / 2), xref="paper", yref="paper",
                            showarrow=False, textangle=-90, xanchor="center", yanchor="middle",
                            font=dict(family="DejaVu Sans", size=11.5 if small else 16, color="#222222")))

fig.update_layout(width=FW, height=FH, margin=dict(l=0, r=0, t=0, b=0), showlegend=False,
                  paper_bgcolor="white", plot_bgcolor="white", annotations=annotations, shapes=shapes)

fig.write_html("out.html")
